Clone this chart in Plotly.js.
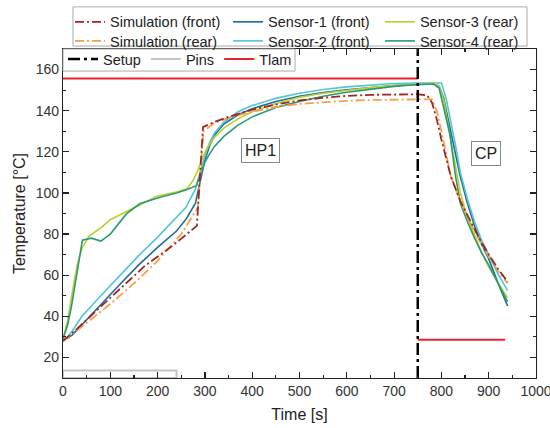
<!DOCTYPE html>
<html>
<head>
<meta charset="utf-8">
<script src="https://cdn.plot.ly/plotly-3.0.1.min.js"></script>
<style>html,body{margin:0;padding:0;background:#fff;}#chart{width:550px;height:428px;}</style>
</head>
<body>
<div id="chart"></div>
<script>
// ---- data ----
const simFrontT = [0, 30, 100, 173, 230, 283, 296, 320, 350, 400, 450, 500, 550, 600, 650, 700, 750, 770, 780, 790, 800, 820, 840, 860, 880, 900, 920, 940];
const simFrontY = [28, 34, 49, 64.5, 74, 84, 132, 134.5, 137, 140.5, 143, 145, 146.3, 147.2, 147.7, 148, 148, 147.5, 144, 136, 126, 108, 96, 87, 78, 70, 63, 56.8];

const simRearT = [0, 40, 100, 150, 200, 250, 285, 297, 320, 350, 400, 450, 500, 550, 600, 650, 700, 750, 780, 790, 800, 820, 840, 860, 880, 900, 920, 940];
const simRearY = [28, 35, 46, 56, 67, 80, 93, 130, 134, 136.5, 139.5, 141.8, 143.3, 144.2, 144.8, 145.2, 145.4, 145.6, 145.6, 140, 130, 108, 96, 86, 77, 69, 62, 56];

const s1T = [0, 10, 20, 40, 80, 120, 160, 200, 240, 261, 280, 292, 300, 310, 320, 340, 370, 400, 450, 500, 550, 600, 650, 700, 750, 785, 795, 805, 815, 830, 840, 855, 870, 885, 900, 920, 940];
const s1Y = [29, 29.5, 31, 36, 46, 55.5, 65, 73.5, 81.5, 87.5, 95, 107, 116, 123, 128, 133.5, 138, 141, 144.5, 147, 148.8, 150.2, 151.3, 152.2, 152.8, 153, 152, 146, 135, 118, 108, 95, 84, 75, 68, 56, 45];

const s2T = [0, 10, 20, 40, 80, 120, 160, 200, 240, 260, 280, 290, 300, 310, 320, 340, 370, 400, 450, 500, 550, 600, 650, 700, 750, 790, 800, 810, 820, 830, 840, 855, 870, 885, 900, 920, 940];
const s2Y = [28.5, 30, 33, 40, 50, 60, 69.5, 78.5, 88, 93, 102, 110, 118, 124.5, 129, 134.5, 139.5, 142.5, 146, 148.5, 150.3, 151.6, 152.5, 153.2, 153.5, 153.7, 153.5, 146, 135, 123, 110, 97, 86, 77, 70, 60.5, 52.5];

const s3T = [0, 10, 20, 30, 40, 55, 80, 100, 130, 160, 200, 240, 262, 275, 285, 295, 305, 320, 340, 370, 400, 450, 500, 550, 600, 650, 700, 750, 785, 795, 805, 815, 830, 840, 855, 870, 885, 900, 920, 940];
const s3Y = [29, 38, 52, 65, 73, 79, 83, 87, 90.5, 94, 98.5, 100.5, 102, 106, 111, 117, 122, 127, 131.5, 136, 139.5, 143.5, 146.5, 148.5, 150, 151.2, 152.2, 153, 153.2, 152, 145, 132, 112, 100, 88, 79, 71, 64, 56, 49];

const s4T = [0, 10, 18, 30, 41, 60, 80, 100, 134, 162, 205, 240, 261, 282, 292, 300, 310, 320, 340, 370, 400, 450, 500, 550, 600, 650, 700, 750, 783, 795, 805, 818, 830, 840, 855, 870, 885, 900, 920, 940];
const s4Y = [29, 36, 45, 62, 77, 78, 76.6, 80, 89.8, 94.7, 97.9, 100, 101.5, 103.5, 110, 115, 119, 122.5, 127.5, 133, 137, 141.5, 144.5, 147, 149, 150.5, 151.8, 152.7, 153, 151, 141, 128.5, 108, 95, 86, 78, 71, 65, 56, 47];

const setupT = [750, 750];
const setupY = [10, 170];
const pinsT = [0, 0, 240, 240, 0];
const pinsY = [10, 13.6, 13.6, 10, 10];
const tlamT = [0, 750, null, 750, 935];
const tlamY = [155.7, 155.7, null, 28.6, 28.6];

const phaseLabels = ["HP1", "CP"];
const phaseT = [418, 894];
const phaseY = [120.5, 119.3];

// ---- traces ----
const simDash = "9px,3px,2px,3px";
const traces = [
  {x: s1T, y: s1Y, name: "Sensor-1 (front)", mode: "lines", line: {color: "#1f6b9a", width: 1.6}, legend: "legend3"},
  {x: s2T, y: s2Y, name: "Sensor-2 (front)", mode: "lines", line: {color: "#4fc6d6", width: 1.6}, legend: "legend6"},
  {x: s3T, y: s3Y, name: "Sensor-3 (rear)", mode: "lines", line: {color: "#bccf2a", width: 1.6}, legend: "legend4"},
  {x: s4T, y: s4Y, name: "Sensor-4 (rear)", mode: "lines", line: {color: "#2a9b73", width: 1.6}, legend: "legend7"},
  {x: simRearT, y: simRearY, name: "Simulation (rear)", mode: "lines", line: {color: "#f4a04a", width: 1.8, dash: simDash}, legend: "legend5"},
  {x: simFrontT, y: simFrontY, name: "Simulation (front)", mode: "lines", line: {color: "#9e2626", width: 1.8, dash: simDash}, legend: "legend"},
  {x: pinsT, y: pinsY, name: "Pins", mode: "lines", line: {color: "#c4c4c4", width: 2}, legend: "legend2", legendrank: 2},
  {x: tlamT, y: tlamY, name: "Tlam", mode: "lines", line: {color: "#e8222c", width: 2}, legend: "legend2", legendrank: 3, connectgaps: false},
  {x: setupT, y: setupY, name: "Setup", mode: "lines", line: {color: "#000000", width: 2.5, dash: "12px,4px,3px,4px"}, legend: "legend2", legendrank: 1}
];

const fontFam = "Liberation Sans, Arial, sans-serif";
const axisCommon = {
  showline: true, linecolor: "#222", linewidth: 1.2, mirror: "ticks",
  ticks: "inside", ticklen: 6, tickwidth: 1.2, tickcolor: "#222",
  showgrid: false, zeroline: false, ticklabeloverflow: "allow",
  tickfont: {family: fontFam, size: 14, color: "#333"}
};

const legFont = {family: fontFam, size: 14.5, color: "#222"};
const oneLegend = (x, y) => ({
  orientation: "v", x: x, xanchor: "left", y: y, yanchor: "top",
  bgcolor: "rgba(0,0,0,0)", borderwidth: 0, font: legFont, tracegroupgap: 0
});
const row1 = 1.131, row2 = 1.073;
const col1 = 0.0148, col2 = 0.349, col3 = 0.670;

const layout = {
  width: 550, height: 428,
  margin: {l: 63, r: 14, t: 49, b: 50, autoexpand: false},
  paper_bgcolor: "#fff", plot_bgcolor: "#fff",
  font: {family: fontFam, color: "#222"},
  xaxis: Object.assign({}, axisCommon, {
    range: [0, 1000], dtick: 100, tick0: 0,
    minor: {ticks: "inside", ticklen: 3, dtick: 50, tickcolor: "#222", showgrid: false},
    title: {text: "Time [s]", font: {family: fontFam, size: 16, color: "#222"}, standoff: 10}
  }),
  yaxis: Object.assign({}, axisCommon, {
    range: [10, 170], dtick: 20, tick0: 20,
    minor: {ticks: "inside", ticklen: 3, dtick: 10, tickcolor: "#222", showgrid: false},
    title: {text: "Temperature [°C]", font: {family: fontFam, size: 16, color: "#222"}, standoff: 6}
  }),
  legend: oneLegend(col1, row1),
  legend3: oneLegend(col2, row1),
  legend4: oneLegend(col3, row1),
  legend5: oneLegend(col1, row2),
  legend6: oneLegend(col2, row2),
  legend7: oneLegend(col3, row2),
  legend2: {
    orientation: "h", x: 0, xanchor: "left", y: 1.018, yanchor: "top",
    bgcolor: "rgba(0,0,0,0)", borderwidth: 0,
    font: {family: fontFam, size: 14.5, color: "#222"}
  },
  shapes: [
    {type: "rect", xref: "paper", yref: "paper",
     x0: 0.0211, x1: 0.981, y0: 1.009, y1: 1.128,
     line: {color: "#aaa", width: 1}, fillcolor: "rgba(0,0,0,0)", layer: "below"},
    {type: "rect", xref: "paper", yref: "paper",
     x0: 0, x1: 0.4905, y0: 0.933, y1: 1,
     line: {color: "#aaa", width: 1}, fillcolor: "#fff", layer: "above"}
  ],
  annotations: phaseLabels.map((t, i) => ({
    x: phaseT[i], y: phaseY[i], xref: "x", yref: "y", text: t, showarrow: false,
    font: {family: fontFam, size: 16, color: "#222"},
    bgcolor: "#fff", bordercolor: "#888", borderwidth: 1, borderpad: 3
  })),
  showlegend: true
};

Plotly.newPlot("chart", traces, layout, {displayModeBar: false, staticPlot: true});
</script>
</body>
</html>
